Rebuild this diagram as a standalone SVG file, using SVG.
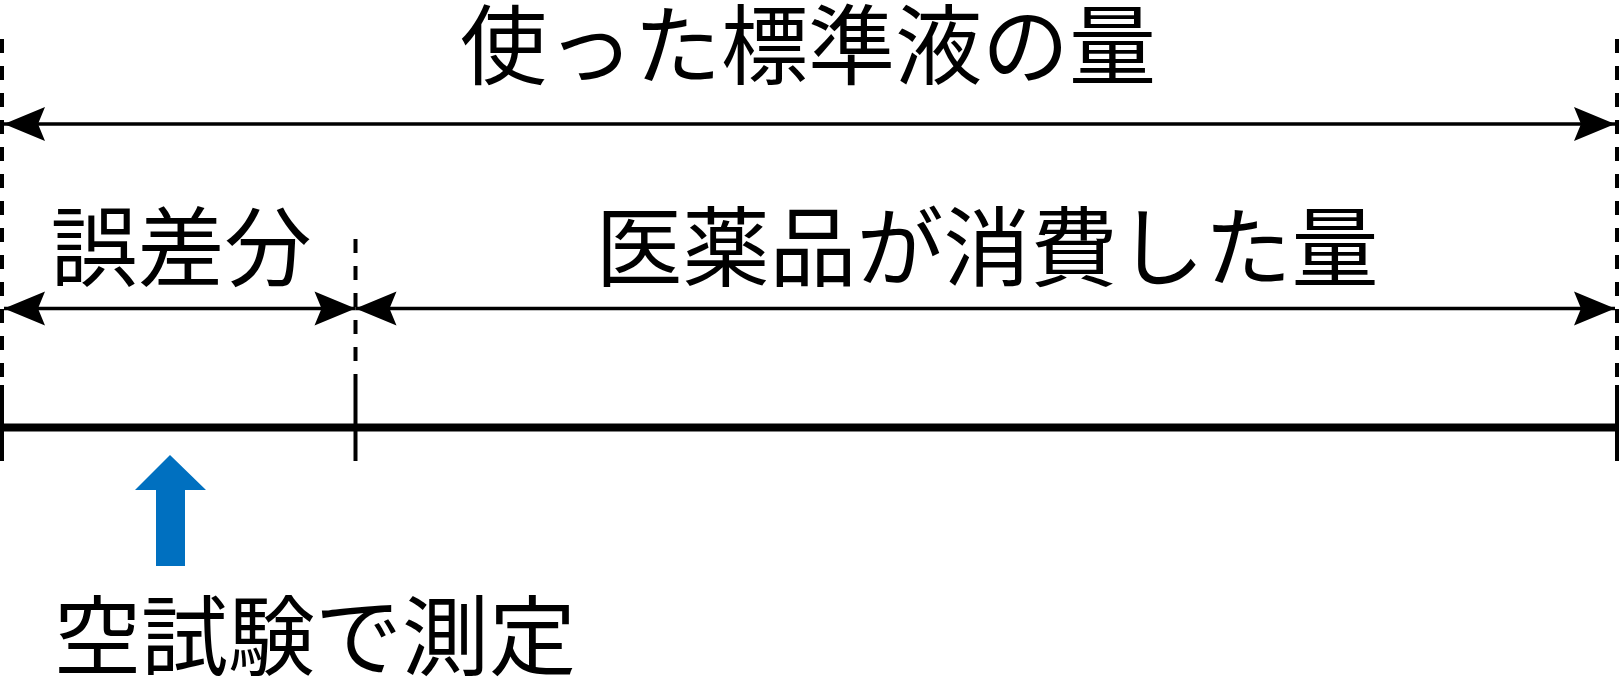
<svg xmlns="http://www.w3.org/2000/svg" width="1619" height="699" viewBox="0 0 1619 699">
<style>
.lbl{font-family:"Noto Sans CJK JP","Noto Sans CJK SC",sans-serif;font-size:87px;fill:#000;text-anchor:middle}
.dim{stroke:#000;stroke-width:3.3;fill:none;marker-start:url(#ah);marker-end:url(#ah)}
.dash{stroke:#000;stroke-width:4;stroke-dasharray:14 13;fill:none}
.tick{stroke:#000;stroke-width:4;fill:none}
</style>
<defs>
<marker id="ah" viewBox="-42 -18 44 36" refX="0" refY="0" markerWidth="44" markerHeight="36" markerUnits="userSpaceOnUse" orient="auto-start-reverse">
<path d="M0,0 L-41,-17 L-34,0 L-41,17 Z" fill="#000"/>
</marker>
</defs>
<g id="guides">
<line class="dash" x1="2" y1="39" x2="2" y2="385"/>
<line class="tick" x1="2" y1="385" x2="2" y2="461"/>
<line class="dash" x1="355.5" y1="239" x2="355.5" y2="385"/>
<line class="tick" x1="355.5" y1="385" x2="355.5" y2="461"/>
<line class="dash" x1="1617" y1="39" x2="1617" y2="385"/>
<line class="tick" x1="1617" y1="385" x2="1617" y2="461"/>
<line x1="0" y1="427.5" x2="1619" y2="427.5" stroke="#000" stroke-width="8"/>
</g>
<g id="connectors">
<line class="dim" x1="4" y1="124" x2="1615" y2="124"/>
<line class="dim" x1="4" y1="308.5" x2="355.5" y2="308.5"/>
<line class="dim" x1="355.5" y1="308.5" x2="1615" y2="308.5"/>
</g>
<g id="total-label"><text class="lbl" x="808" y="78">使った標準液の量</text></g>
<g id="error-label"><text class="lbl" x="181" y="280">誤差分</text></g>
<g id="consumed-label"><text class="lbl" x="987" y="280">医薬品が消費した量</text></g>
<g id="blank-test">
<polygon points="170,455 206,490 185,490 185,566 156,566 156,490 135,490" fill="#0070C0"/>
<text class="lbl" x="315" y="669">空試験で測定</text>
</g>
</svg>
